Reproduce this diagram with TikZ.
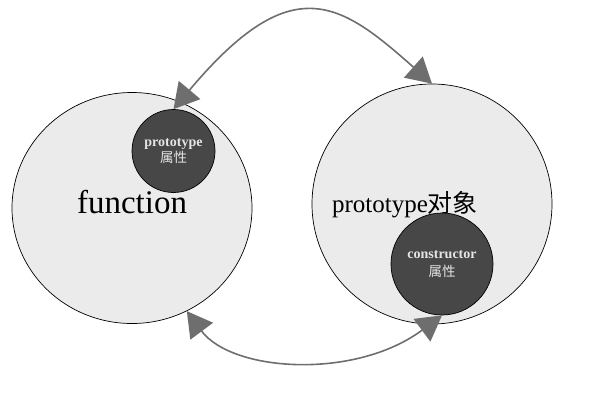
\documentclass[tikz,border=0pt]{standalone}
\usepackage{fontspec}
\setmainfont{Liberation Serif}
\newfontfamily\cjk{Noto Sans CJK SC}
\usetikzlibrary{arrows.meta,shapes.geometric}
\definecolor{bubblegray}{HTML}{EBEBEB}
\definecolor{coregray}{HTML}{474747}
\definecolor{arrowgray}{HTML}{6E6E6E}

\begin{document}
\begin{tikzpicture}[x=1pt, y=-1pt,
    outer/.style={draw, ellipse, fill=bubblegray, line width=0.7pt, inner sep=0pt},
    inner/.style={draw, circle, fill=coregray, line width=0.7pt, inner sep=0pt, text=white!90!black, align=center},
    link/.style={{Triangle[length=25pt,width=28pt]}-{Triangle[length=25pt,width=28pt]}, draw=arrowgray, line width=1.6pt}]
    \useasboundingbox (0,0) rectangle (592,400);

    % the two big circles
    \node[outer, minimum width=240pt, minimum height=231pt] (fn) at (132,208) {};
    \node[outer, minimum width=240pt, minimum height=240pt] (po) at (432,204) {};
    \node[font=\fontsize{33}{36}\selectfont] (fnname) at (132,202) {function};
    \node[font=\fontsize{25}{28}\selectfont] (poname) at (405,205) {prototype{\cjk 对象}};

    % the properties
    \node[inner, minimum size=83pt, font=\fontsize{14}{16}\selectfont] (pa) at (173.5,151) {\textbf{prototype}\\{\cjk\fontsize{13.5}{16}\selectfont 属性}};
    \node[inner, minimum size=102pt, font=\fontsize{14}{18}\selectfont] (cs) at (442,264) {\textbf{constructor}\\{\cjk\fontsize{13.5}{18}\selectfont 属性}};

    \draw[link] (pa.north) .. controls (292,-32) and (340,2) .. (po.north);
    \draw[link] (fn.-62) .. controls (232,372) and (355,380) .. (cs.south);
\end{tikzpicture}
\end{document}
